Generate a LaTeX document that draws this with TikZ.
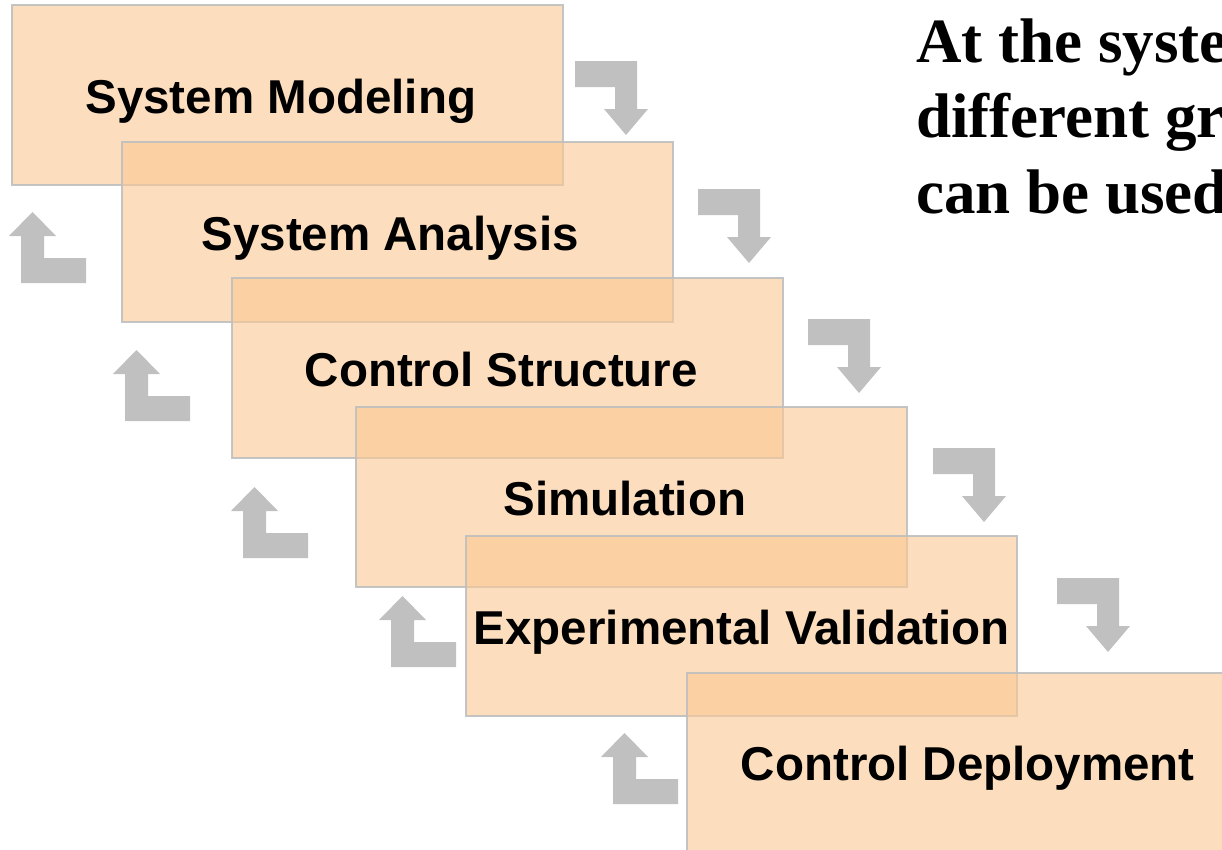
\documentclass[tikz,border=0pt]{standalone}
\usepackage{fontspec}
\setmainfont{Liberation Serif}
\setsansfont{Liberation Sans}
\begin{document}
\begin{tikzpicture}[x=1pt,y=-1pt]
\definecolor{stagefill}{RGB}{251,201,148}
\definecolor{stageline}{RGB}{191,191,191}
\definecolor{turngray}{RGB}{192,192,192}
\tikzset{
  stagebox/.style={draw=stageline, line width=1.6pt, draw opacity=0.9,
    fill=stagefill, fill opacity=0.6, text opacity=1,
    minimum width=551pt, minimum height=180pt, inner sep=0pt, anchor=north west},
  stagelabel/.style={anchor=base, inner sep=0pt,
    font=\sffamily\bfseries\fontsize{47.5}{57}\selectfont},
  headline/.style={anchor=base west, inner sep=0pt,
    font=\rmfamily\bfseries\fontsize{63}{75}\selectfont},
  downturn/.pic={\fill[turngray] (0,0) -- (62,0) -- (62,48) -- (73,48) -- (51,74)
      -- (29,48) -- (40,48) -- (40,26) -- (0,26) -- cycle;},
  upturn/.pic={\fill[turngray] (0,0) -- (65,0) -- (65,-25) -- (23,-25) -- (23,-47)
      -- (35,-47) -- (11.5,-71) -- (-12,-47) -- (0,-47) -- cycle;}
}
\useasboundingbox (0,0) rectangle (1222,849);
\clip (0,0) rectangle (1222,849);
\fill[white] (0,0) rectangle (1222,849);

% stages of the design flow, stacked as a cascade
\node[stagebox] (b1) at (11,4)    {};
\node[stagebox] (b2) at (121,141) {};
\node[stagebox] (b3) at (231,277) {};
\node[stagebox] (b4) at (355,406) {};
\node[stagebox] (b5) at (465,535) {};
\node[stagebox] (b6) at (686,672) {};

\node[stagelabel] (l1) at ([xshift=-6.5pt,yshift=-19pt]b1.center) {System Modeling};
\node[stagelabel] (l2) at ([xshift=-7pt,yshift=-19pt]b2.center) {System Analysis};
\node[stagelabel] (l3) at ([xshift=-6pt,yshift=-19pt]b3.center) {Control Structure};
\node[stagelabel] (l4) at ([xshift=-6.5pt,yshift=-19pt]b4.center) {Simulation};
\node[stagelabel] (l5) at ([xshift=0.5pt,yshift=-19pt]b5.center) {Experimental Validation};
\node[stagelabel] (l6) at ([xshift=5.5pt,yshift=-18pt]b6.center) {Control Deployment};

% forward steps (right side)
\pic at (575,61)   {downturn};
\pic at (698,189)  {downturn};
\pic at (808,319)  {downturn};
\pic at (933,448)  {downturn};
\pic at (1057,578) {downturn};

% feedback steps (left side)
\pic at (21,283)  {upturn};
\pic at (125,421) {upturn};
\pic at (243,558) {upturn};
\pic at (391,667) {upturn};
\pic at (613,804) {upturn};

% heading text
\node[headline] (t1) at (916,62)  {At the syste};
\node[headline] (t2) at (916,137) {different gr};
\node[headline] (t3) at (916,213) {can be used};
\end{tikzpicture}
\end{document}
